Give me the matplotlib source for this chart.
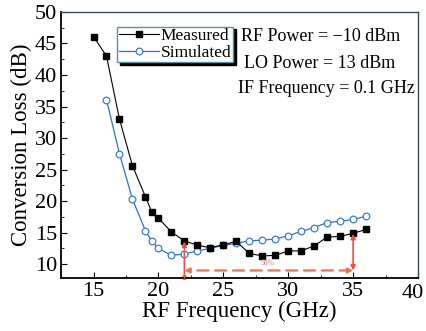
import matplotlib
matplotlib.use("Agg")
import matplotlib.pyplot as plt
from matplotlib.ticker import MultipleLocator

# -- Data --------------------------------------------------------------------
freq_meas = [15, 16, 17, 18, 19, 19.5, 20, 21, 22, 23, 24, 25, 26, 27, 28,
             29, 30, 31, 32, 33, 34, 35, 36]
loss_meas = [46.1, 43.0, 33.0, 25.6, 20.7, 18.2, 17.3, 15.1, 13.7, 13.0, 12.6,
             13.1, 13.6, 11.7, 11.3, 11.4, 12.1, 12.1, 12.9, 14.3, 14.4, 14.9,
             15.5]
freq_sim = [16, 17, 18, 19, 19.5, 20, 21, 22, 23, 24, 25, 26, 27, 28, 29, 30,
            31, 32, 33, 34, 35, 36]
loss_sim = [36.1, 27.5, 20.3, 15.3, 13.6, 12.5, 11.4, 11.6, 12.1, 12.5, 13.0,
            13.3, 13.7, 13.8, 14.0, 14.5, 15.2, 15.8, 16.6, 16.8, 17.1, 17.6]

x_ticks = [15, 20, 25, 30, 35, 40]
y_ticks = [10, 15, 20, 25, 30, 35, 40, 45, 50]

band_lo, band_hi = 22, 35
band_y = 9.0
band_label = "58%"
notes = ["RF Power = \u221210 dBm", "LO Power = 13 dBm", "IF Frequency = 0.1 GHz"]
note_pos = [(0.728, 0.906), (0.723, 0.808), (0.744, 0.711)]

plt.rcParams["font.family"] = ["Liberation Serif", "DejaVu Serif"]

fig = plt.figure(figsize=(4.27, 3.31), dpi=100)
ax = fig.add_axes([0.143, 0.160, 0.836, 0.804])

ax.plot(freq_meas, loss_meas, "-", color="black", linewidth=0.8,
        marker="s", markersize=4.2, markerfacecolor="black",
        markeredgecolor="black", label="Measured", zorder=3)
ax.plot(freq_sim, loss_sim, "-", color="#2a6fdb", linewidth=0.9,
        marker="o", markersize=4.8, markerfacecolor="white",
        markeredgecolor="#3a7be0", markeredgewidth=0.9, label="Simulated",
        zorder=2)

# red bandwidth annotation
red = "#f05040"
ax.annotate("", xy=(band_lo, loss_meas[freq_meas.index(band_lo)] - 0.1),
            xytext=(band_lo, 7.8),
            arrowprops=dict(arrowstyle="-|>", color=red, lw=1.2,
                            mutation_scale=7, shrinkA=0, shrinkB=0))
ax.plot([band_lo], [7.9], "o", color=red, markersize=2.5, clip_on=False)
ax.annotate("", xy=(band_hi, loss_meas[freq_meas.index(band_hi)] - 0.1),
            xytext=(band_hi, band_y),
            arrowprops=dict(arrowstyle="<|-|>", color=red, lw=1.2,
                            mutation_scale=7, shrinkA=0, shrinkB=0))
ax.annotate("", xy=(band_lo, band_y), xytext=(band_hi, band_y),
            arrowprops=dict(arrowstyle="<|-|>", color="#f07050", lw=1.6,
                            linestyle=(0, (5, 3)), mutation_scale=7,
                            shrinkA=0, shrinkB=0))
ax.text(28.4, 9.6, band_label, color=red, fontsize=5.5, ha="center",
        va="bottom", alpha=0.8)

ax.set_xlim(12.5, 40)
ax.set_ylim(7.8, 50)
# last x label is drawn by hand, nudged left so it stays on the canvas
ax.set_xticks(x_ticks, labels=[str(t) for t in x_ticks[:-1]] + [""])
ax.annotate(str(x_ticks[-1]), xy=(x_ticks[-1], 0),
            xycoords=("data", "axes fraction"), xytext=(-4, -4),
            textcoords="offset points", ha="center", va="top", fontsize=16)
ax.xaxis.set_minor_locator(MultipleLocator(2.5))
ax.set_yticks(y_ticks)
ax.yaxis.set_minor_locator(MultipleLocator(2.5))
ax.tick_params(which="both", direction="in", labelsize=16, top=False,
               right=False)
ax.tick_params(which="major", length=4, pad=3)
ax.tick_params(which="minor", length=2)
ax.set_xlabel("RF Frequency (GHz)", fontsize=16.5, labelpad=0)
ax.set_ylabel("Conversion Loss (dB)", fontsize=16.5, labelpad=2)

for side in ["left", "bottom"]:
    ax.spines[side].set_linewidth(1.3)
    ax.spines[side].set_color("black")
for side in ["top", "right"]:
    ax.spines[side].set_linewidth(1.0)
    ax.spines[side].set_color("#2e4f60")

leg = ax.legend(loc="upper left", bbox_to_anchor=(0.157, 0.945), fontsize=12.5,
                handlelength=2.3, handletextpad=0.1, borderpad=0.1,
                labelspacing=0.0, fancybox=False,
                shadow={"color": "black", "alpha": 1},
                framealpha=1, borderaxespad=0)
leg.get_frame().set_edgecolor("#5a8fa8")
leg.get_frame().set_linewidth(1.0)

for note, (nx, ny) in zip(notes, note_pos):
    ax.text(nx, ny, note, transform=ax.transAxes, fontsize=13,
            ha="center", va="center")

fig.savefig("out.png", dpi=100)
